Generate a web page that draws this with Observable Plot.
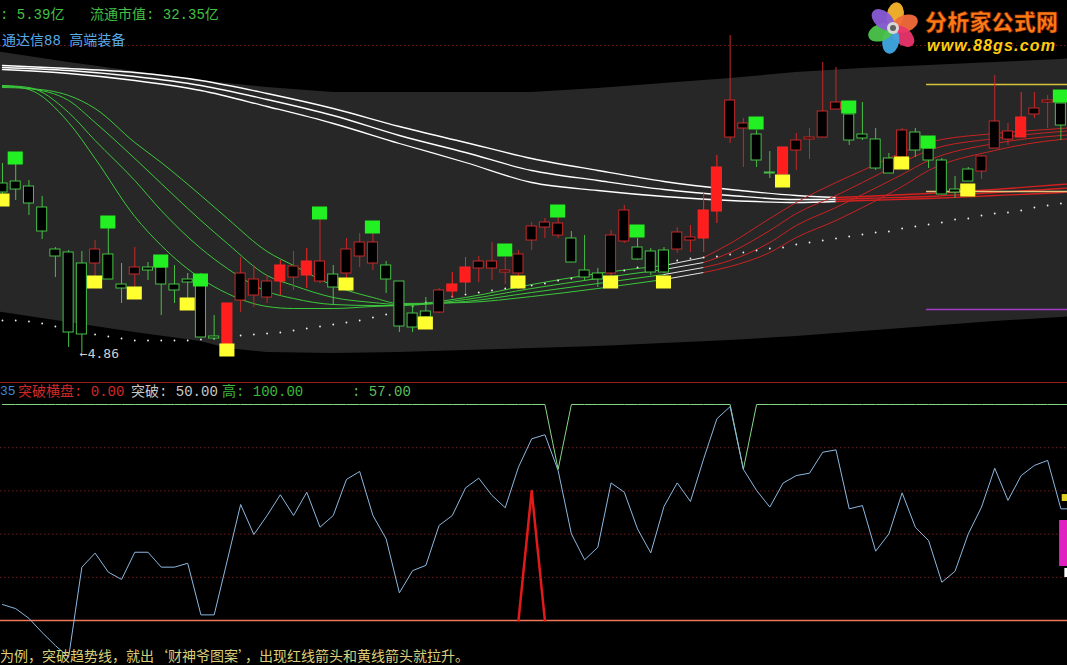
<!DOCTYPE html>
<html><head><meta charset="utf-8">
<script src="https://cdn.jsdelivr.net/npm/d3@7"></script>
<script src="https://cdn.jsdelivr.net/npm/@observablehq/plot@0.6"></script>
<style>
body{margin:0;background:#000;}
#wrap{position:relative;width:1067px;height:665px;background:#000;overflow:hidden;}
.t{position:absolute;white-space:pre;font-family:"Liberation Mono","Noto Sans CJK SC",monospace;font-size:14px;line-height:16px;}
</style></head><body>
<div id="wrap">
  <div id="top" style="position:absolute;left:0;top:0"></div>
  <div id="bot" style="position:absolute;left:0;top:383px"></div>
  <div style="position:absolute;left:0;top:382px;width:1067px;height:1px;background:#9a1c1c"></div>
  <div class="t" style="left:0;top:7px;color:#44c044">: 5.39亿</div>
  <div class="t" style="left:90px;top:7px;color:#44c044">流通市值: 32.35亿</div>
  <div class="t" style="left:2px;top:33px;color:#5aaae8">通达信88 高端装备</div>
  <div class="t" style="left:0;top:384px;font-size:13px;color:#3c8ad8">35</div>
  <div class="t" style="left:18px;top:384px;color:#d02828">突破横盘: 0.00</div>
  <div class="t" style="left:131px;top:384px;color:#c8c8c8">突破: 50.00</div>
  <div class="t" style="left:222px;top:384px;color:#3cb83c">高: 100.00</div>
  <div class="t" style="left:352px;top:384px;color:#5cbf5c">: 57.00</div>
  <div class="t" style="left:0;top:648px;line-height:15px;color:#d9cf7a;font-family:'Noto Sans CJK SC',sans-serif">为例，突破趋势线，就出‘财神爷图案’，出现红线箭头和黄线箭头就拉升。</div>
  <svg id="logo" style="position:absolute;left:862px;top:0" width="205" height="58"></svg>
</div>
<script>
// ---------- top panel: candles (prices) ----------
const kind = ["g","g","g","g","g","g","g","r","g","g","r","g","g","g","g","g","g","R","r","r",
              "r","R","r","R","r","g","r","r","r","g","g","g","g","r","R","R","r","r","r","r",
              "r","r","r","g","g","g","r","r","g","g","g","r","r","R","R","r","r","g","g","R",
              "r","r","r","r","g","g","g","g","r","g","g","g","g","g","r","r","r","R","r","r","g"];
const openP = [6.55,6.57,6.52,6.31,5.89,5.86,5.75,5.75,5.84,5.54, 5.64,5.71,5.71,5.54,5.59,5.53,5.02,4.94,5.38,5.43,
  5.41,5.57,5.61,5.63,5.57,5.64,5.65,5.82,5.75,5.73, 5.57,5.25,5.27,5.26,5.47,5.56,5.70,5.70,5.66,5.65,
  5.98,6.11,6.03,6.00,5.68,5.65,5.65,5.97,5.91,5.87, 5.88,5.89,5.98,6.00,6.27,7.01,7.10,7.04,6.66,6.64,
  6.88,6.99,7.01,7.29,7.24,7.04,6.99,6.80,6.81,7.06, 6.90,6.78,6.49,6.69,6.67,6.90,6.99,7.01,7.24,7.36, 7.35];
const closeP = [6.46,6.49,6.35,6.07,5.82,5.06,5.04,5.89,5.59,5.50, 5.71,5.68,5.54,5.48,5.56,5.01,5.00,5.35,5.65,5.59,
  5.57,5.73,5.72,5.77,5.77,5.51,5.89,5.96,5.96,5.59, 5.12,5.11,5.21,5.48,5.54,5.71,5.77,5.77,5.68,5.84,
  6.12,6.16,6.15,5.76,5.61,5.59,6.03,6.28,5.79,5.66, 5.66,6.06,6.01,6.28,6.71,7.38,7.15,6.78,6.65,6.91,
  6.98,7.01,7.27,7.36,6.98,7.00,6.70,6.65,7.08,6.88, 6.78,6.44,6.46,6.57,6.82,7.17,7.07,7.21,7.30,7.38, 7.13];
const highP = [6.75,6.75,6.58,6.42,5.91,5.88,5.87,5.98,6.11,5.75, 5.91,5.76,5.83,5.73,5.65,5.65,5.23,5.35,5.81,5.73,
  5.63,5.78,5.87,5.90,6.19,5.73,6.00,6.05,6.05,5.77, 5.57,5.33,5.41,5.50,5.66,5.81,5.82,5.96,5.81,5.88,
  6.16,6.20,6.21,6.07,6.03,5.70,6.08,6.33,6.00,5.90, 5.91,6.11,6.13,6.45,6.83,8.03,7.20,7.08,6.87,6.91,
  7.05,7.10,7.76,7.71,7.24,7.36,7.10,6.85,7.10,7.10, 6.96,6.80,6.62,6.71,6.83,7.63,7.15,7.46,7.46,7.43, 7.35];
const lowP = [6.40,6.38,6.23,5.99,5.61,4.91,4.86,5.62,5.59,5.35, 5.51,5.58,5.23,5.35,5.31,5.01,4.98,4.94,5.26,5.31,
  5.35,5.43,5.48,5.50,5.55,5.33,5.56,5.71,5.68,5.45, 5.06,5.06,5.21,5.25,5.41,5.45,5.56,5.58,5.54,5.61,
  5.88,6.00,6.00,5.76,5.58,5.51,5.61,5.95,5.78,5.63, 5.65,5.85,5.86,5.86,6.15,6.95,6.71,6.71,6.60,6.64,
  6.68,6.79,7.01,7.29,6.93,6.98,6.68,6.65,6.81,6.81, 6.70,6.44,6.40,6.57,6.59,6.90,6.93,7.01,7.20,7.10, 6.98];

// signal squares
const greenIdx = [1,8,12,15,24,28,38,42,48,57,64,70,80];
const greenPrice = [6.80,6.16,5.77,5.58,6.25,6.11,5.88,6.27,6.07,7.15,7.31,6.96,7.42];
const yellowIdx = [0,7,10,14,17,26,32,39,46,50,59,68,73];
const yellowPrice = [6.38,5.56,5.45,5.34,4.88,5.54,5.15,5.56,5.56,5.56,6.57,6.75,6.48];

// channel band
const bandIdx = [-1,0,5,10,15,17,20,25,30,35,40,45,50,55,60,65,70,75,80,81];
const bandUpper = [7.87,7.86,7.76,7.67,7.58,7.55,7.51,7.46,7.46,7.46,7.46,7.50,7.55,7.60,7.66,7.70,7.73,7.76,7.79,7.80];
const bandLower = [5.28,5.26,5.16,5.06,4.97,4.90,4.86,4.85,4.86,4.88,4.90,4.92,4.95,4.98,5.02,5.07,5.12,5.17,5.21,5.22];

// long moving averages
const longIdx = [0,5,10,15,20,25,30,35,40,45,50,55,60,63,65,70,75,80,81];
const longA = [7.73,7.70,7.66,7.58,7.45,7.30,7.12,6.96,6.80,6.68,6.57,6.49,6.43,6.41,6.42,6.45,6.49,6.54,6.55];
const longB = [7.71,7.68,7.62,7.53,7.39,7.23,7.03,6.86,6.68,6.58,6.49,6.43,6.39,6.39,6.40,6.42,6.46,6.50,6.51];
const longC = [7.69,7.65,7.58,7.48,7.32,7.15,6.95,6.76,6.56,6.48,6.42,6.38,6.36,6.37,6.38,6.40,6.43,6.46,6.47];

// short moving averages
const shortIdx = [0,2,5,7,10,12,15,17,20,22,25,28,30,35,40,45,50,53,55,58,60,63,65,68,70,75,80,81];
const shortS1 = [7.53,7.49,7.16,6.80,6.22,5.93,5.60,5.45,5.32,5.30,5.30,5.32,5.33,5.41,5.54,5.65,5.73,5.81,5.95,6.20,6.36,6.56,6.68,6.86,6.96,7.05,7.10,7.11];
const shortS2 = [7.53,7.51,7.26,6.98,6.58,6.28,5.90,5.70,5.47,5.40,5.34,5.33,5.33,5.39,5.50,5.60,5.69,5.76,5.86,6.08,6.25,6.43,6.56,6.76,6.88,7.00,7.07,7.08];
const shortS3 = [7.52,7.50,7.38,7.16,6.80,6.55,6.18,5.95,5.63,5.53,5.41,5.36,5.34,5.37,5.46,5.55,5.64,5.71,5.78,5.96,6.13,6.31,6.44,6.64,6.78,6.95,7.03,7.04];
const shortS4 = [7.51,7.50,7.43,7.30,6.96,6.76,6.43,6.20,5.87,5.73,5.53,5.41,5.35,5.36,5.42,5.50,5.59,5.66,5.72,5.86,6.01,6.18,6.31,6.52,6.68,6.88,6.99,7.00];

// dotted slow line
const dotsVal = [5.18,5.18,5.17,5.15,5.12,5.09,5.06,5.04,5.02,5.00,
 4.98,4.98,4.98,4.98,4.98,4.99,5.00,5.01,5.03,5.04,
 5.05,5.06,5.08,5.10,5.12,5.14,5.16,5.18,5.21,5.24,
 5.28,5.32,5.36,5.39,5.42,5.44,5.46,5.48,5.50,5.51,
 5.53,5.55,5.58,5.60,5.63,5.65,5.66,5.68,5.71,5.73,
 5.76,5.78,5.80,5.81,5.82,5.84,5.86,5.88,5.90,5.91,
 5.94,5.96,5.98,6.00,6.02,6.04,6.06,6.07,6.10,6.12,
 6.14,6.16,6.19,6.20,6.23,6.25,6.26,6.28,6.31,6.33, 6.35];

// right-side level lines
const levelPrice = [7.54, 6.47, 5.29];
const levelColor = ["#d8c23a", "#e6c27a", "#a23cc8"];
const levelStart = 69.85;

// ---------- lower panel ----------
const trendVal = [7.4,5.5,1,-5.6,-11.6,-17,24.7,31.2,22.4,19,
 31.6,31.6,24.7,24.7,26.5,2.6,2.6,28,53.7,39.8,
 48.6,58.2,48.6,59.4,43.2,48.6,65.3,69,48.6,37.8,
 12.8,23.1,25.5,44,48.6,61.4,65.9,57.9,52.2,71,
 84.1,86,69.4,40.1,28.1,33.9,63.7,59.4,42.4,31.3,
 52.8,63.7,55.1,74.9,93.4,99,70,60.2,52.5,63.6,
 67.1,68.2,77.9,79,51.7,53.2,32.1,40.1,59.1,43.2,
 37,17.7,22.8,40.1,52.5,70.5,55.6,67.1,71.8,74.1,
 51.7,51.7];
const highVal = d3.range(82).map(i => (i === 42 || i === 56) ? 70 : 100);
const breakVal = d3.range(82).map(i => i === 40 ? 60 : 0);
const gridVals = [20, 40, 60, 80];
const edgeBars = [
  {x1: 79.9, x2: 81, y1: 25, y2: 46.3, color: "#e020c0"},
  {x1: 80.1, x2: 81, y1: 55.1, y2: 58.3, color: "#e0d020"},
  {x1: 80.3, x2: 81, y1: 19.9, y2: 24.1, color: "#ffffff"}
];

// ---------- build ----------
const candles = d3.range(81).map(i => ({i, o: openP[i], c: closeP[i], h: highP[i], l: lowP[i], k: kind[i]}));
const sty = {g: {s: "#46c046", f: "#000000"}, r: {s: "#c62828", f: "#000000"}, R: {s: "#ff2424", f: "#ff1e1e"}};
const band = bandIdx.map((i, j) => ({i, lo: bandLower[j], hi: bandUpper[j]}));

function segRows(idx, vals, name, segs) {
  const rows = [];
  segs.forEach(([a, b, col], s) => {
    idx.forEach((i, j) => { if (i >= a && i <= b) rows.push({i, p: vals[j], key: name + s, color: col}); });
  });
  return rows;
}
const longSegs = [[0, 63, "#ffffff"], [63, 81, "#d42020"]];
const shortSegs = [[0, 50, "#3cc83c"], [50, 53, "#e6e6e6"], [53, 81, "#c82222"]];
const longRows = [
  ...segRows(longIdx, longA, "A", longSegs),
  ...segRows(longIdx, longB, "B", longSegs),
  ...segRows(longIdx, longC, "C", longSegs)];
const shortRows = [
  ...segRows(shortIdx, shortS1, "S1", shortSegs),
  ...segRows(shortIdx, shortS2, "S2", shortSegs),
  ...segRows(shortIdx, shortS3, "S3", shortSegs),
  ...segRows(shortIdx, shortS4, "S4", shortSegs)];
const dots = dotsVal.map((p, i) => ({i, p}));
const greens = greenIdx.map((i, j) => ({i, p: greenPrice[j]}));
const yellows = yellowIdx.map((i, j) => ({i, p: yellowPrice[j]}));
const levels = levelPrice.map((p, j) => ({p, color: levelColor[j]}));

const xDom = [-0.15, 80.5];
const topPlot = Plot.plot({
  width: 1067, height: 383, margin: 0,
  x: {type: "linear", domain: xDom, axis: null},
  y: {domain: [4.55, 8.38], axis: null},
  color: {type: "identity"},
  style: {background: "transparent"},
  marks: [
    Plot.areaY(band, {x: "i", y1: "lo", y2: "hi", fill: "#272727", clip: true}),
    Plot.ruleY([7.93], {stroke: "#6a1c1c", strokeDasharray: "1.5,2.5"}),
    Plot.lineY(longRows, {x: "i", y: "p", z: "key", stroke: "color", strokeWidth: 1.3, curve: "monotone-x", clip: true}),
    Plot.lineY(shortRows, {x: "i", y: "p", z: "key", stroke: "color", strokeWidth: 1, curve: "monotone-x", clip: true}),
    Plot.dot(dots, {x: "i", y: "p", r: 0.9, fill: "#f0f0f0", stroke: null}),
    Plot.ruleY(levels, {y: "p", x1: levelStart, x2: 81, stroke: "color", strokeWidth: 1.3, clip: true}),
    Plot.ruleX(candles, {x: "i", y1: "l", y2: "h", stroke: d => sty[d.k].s, strokeWidth: 1}),
    Plot.rect(candles, {x1: d => d.i - 0.38, x2: d => d.i + 0.38,
      y1: d => Math.min(d.o, d.c), y2: d => Math.max(d.o, d.c),
      fill: d => sty[d.k].f, stroke: d => sty[d.k].s, strokeWidth: 1}),
    Plot.rect(greens, {x1: d => d.i - 0.57, x2: d => d.i + 0.57, y1: d => d.p - 0.065, y2: d => d.p + 0.065, fill: "#22f022"}),
    Plot.rect(yellows, {x1: d => d.i - 0.57, x2: d => d.i + 0.57, y1: d => d.p - 0.065, y2: d => d.p + 0.065, fill: "#ffff30", clip: true}),
    Plot.text([{i: 6, p: lowP[6]}], {x: "i", y: "p", text: d => "←" + d.p.toFixed(2), textAnchor: "start",
      dx: -2, dy: 1, fill: "#cfcfcf", fontSize: 13, fontFamily: "DejaVu Sans Mono", letterSpacing: 1})
  ]
});
document.getElementById("top").appendChild(topPlot);

const idx82 = d3.range(82);
const breakRows = idx82.filter(i => breakVal[i] > 0 || breakVal[i - 1] > 0 || breakVal[i + 1] > 0).map(i => ({i, v: breakVal[i]}));
const botPlot = Plot.plot({
  width: 1067, height: 282, margin: 0,
  x: {type: "linear", domain: xDom, axis: null},
  y: {domain: [-20.83, 109.72], axis: null},
  color: {type: "identity"},
  style: {background: "transparent"},
  marks: [
    Plot.ruleY(gridVals, {stroke: "#6a2020", strokeDasharray: "1.5,2.5"}),
    Plot.ruleY([0], {stroke: "#f07858", strokeWidth: 1.6}),
    Plot.lineY(highVal, {x: (d, i) => i, y: d => d, stroke: "#86d886", strokeWidth: 1, clip: true}),
    Plot.lineY(trendVal, {x: (d, i) => i, y: d => d, stroke: "#8cb8e0", strokeWidth: 1, clip: true}),
    Plot.lineY(breakRows, {x: "i", y: "v", stroke: "#e21a1a", strokeWidth: 2.5}),
    Plot.rect(edgeBars, {x1: "x1", x2: "x2", y1: "y1", y2: "y2", fill: "color", clip: true})
  ]
});
document.getElementById("bot").appendChild(botPlot);

// ---------- logo (decoration) ----------
const logo = d3.select("#logo");
const petals = ["#f7b52c", "#f26b3a", "#e8356a", "#3fa8e0", "#4cc44c", "#8a5cd6"];
const fg = logo.append("g").attr("transform", "translate(31,28)");
petals.forEach((c, k) => fg.append("ellipse").attr("cx", 0).attr("cy", -13).attr("rx", 8.5).attr("ry", 13)
  .attr("transform", `rotate(${k * 60 + 10})`).attr("fill", c).attr("opacity", 0.95));
fg.append("circle").attr("r", 6).attr("fill", "#d8d8d8");
fg.append("circle").attr("r", 3).attr("fill", "#606060");
logo.append("text").attr("x", 63).attr("y", 30).attr("font-family", "Noto Sans CJK SC").attr("font-weight", 900)
  .attr("font-size", 22).attr("fill", "#ff7a14").attr("stroke", "#6a1a00").attr("stroke-width", 0.6)
  .attr("textLength", 133).text("分析家公式网");
logo.append("text").attr("x", 65).attr("y", 51).attr("font-family", "Liberation Sans").attr("font-weight", "bold")
  .attr("font-style", "italic").attr("font-size", 16).attr("fill", "#ffcc10").attr("textLength", 128)
  .text("www.88gs.com");
</script>
</body></html>
